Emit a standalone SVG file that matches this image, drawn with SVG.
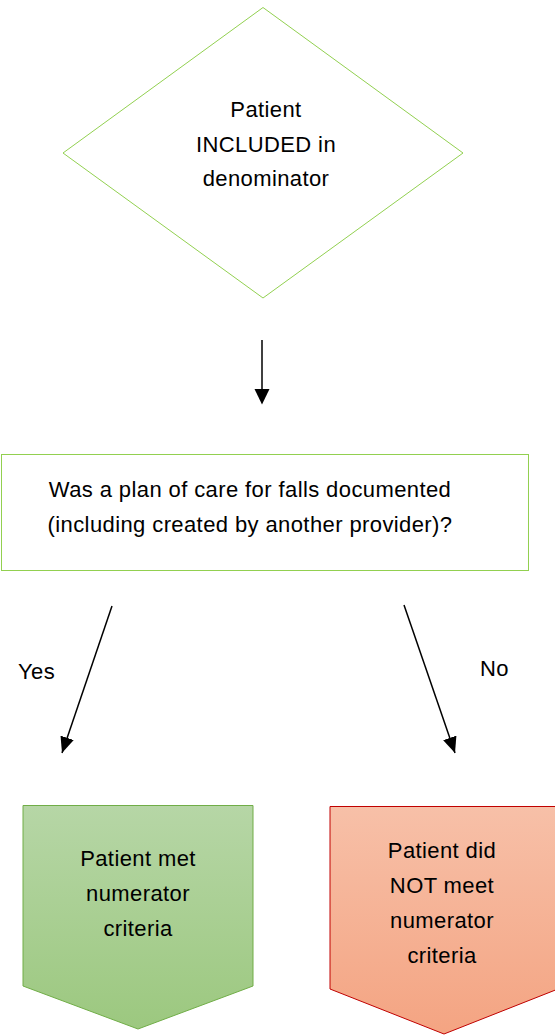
<svg xmlns="http://www.w3.org/2000/svg" width="555" height="1035" viewBox="0 0 555 1035">
<defs>
<style>
text{font-family:"Liberation Sans",Arial,sans-serif;font-size:22px;letter-spacing:0.4px;fill:#000;text-anchor:middle}
.lbl{text-anchor:start}
.conn{stroke:#000;stroke-width:1.5;fill:none}
</style>
<marker id="ah" viewBox="0 0 16 14" refX="16" refY="7" markerWidth="16" markerHeight="14" markerUnits="userSpaceOnUse" orient="auto">
<path d="M0,0 L16,7 L0,14 Z" fill="#000"/>
</marker>
<linearGradient id="gG" x1="0" y1="0" x2="0" y2="1">
<stop offset="0" stop-color="#b6d6a6"/>
<stop offset="1" stop-color="#9cc87f"/>
</linearGradient>
<linearGradient id="gR" x1="0" y1="0" x2="0" y2="1">
<stop offset="0" stop-color="#f7c0a8"/>
<stop offset="1" stop-color="#f4a482"/>
</linearGradient>
</defs>
<rect width="555" height="1035" fill="#fff"/>
<g id="start">
<polygon points="263,7.5 463,153 263,298 63,153" fill="#fff" stroke="#92d050" stroke-width="1"/>
<text x="266" y="117">Patient</text>
<text x="266" y="152">INCLUDED in</text>
<text x="266" y="186">denominator</text>
</g>
<g id="question">
<rect x="1.5" y="454.5" width="527" height="116" fill="#fff" stroke="#92d050" stroke-width="1"/>
<text x="250" y="497">Was a plan of care for falls documented</text>
<text x="250" y="532">(including created by another provider)?</text>
</g>
<g id="met">
<polygon points="23,805.5 253,805.5 253,986 138,1029 23,986" fill="url(#gG)" stroke="#70ad47" stroke-width="1"/>
<text x="138" y="866">Patient met</text>
<text x="138" y="901">numerator</text>
<text x="138" y="936">criteria</text>
</g>
<g id="notmet">
<polygon points="330,806.5 558,806.5 558,989 444,1034 330,989" fill="url(#gR)" stroke="#c00000" stroke-width="1"/>
<text x="442" y="858">Patient did</text>
<text x="442" y="893">NOT meet</text>
<text x="442" y="928">numerator</text>
<text x="442" y="963">criteria</text>
</g>
<g id="connectors">
<path class="conn" d="M262,340 L262,390"/>
<polygon points="254.5,389 269.5,389 262,404.5" fill="#000"/>
<line class="conn" x1="112" y1="606" x2="62" y2="753" marker-end="url(#ah)"/>
<line class="conn" x1="404" y1="605" x2="455" y2="753" marker-end="url(#ah)"/>
<text class="lbl" x="18" y="679">Yes</text>
<text class="lbl" x="480" y="676">No</text>
</g>
</svg>
